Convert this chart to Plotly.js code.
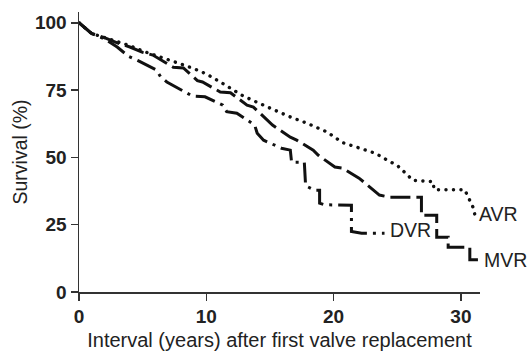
<!DOCTYPE html>
<html>
<head>
<meta charset="utf-8">
<script src="https://cdn.plot.ly/plotly-3.0.1.min.js"></script>
<style>html,body{margin:0;padding:0;background:#fff;}#chart{width:527px;height:352px;}</style>
</head>
<body>
<div id="chart"></div>
<script>
// AVR (dotted)
var avrTime = [0, 1, 2, 3, 4, 5, 6, 7.8, 9, 10, 11.1, 12.1, 12.9, 15, 16.6, 17.9, 19.5, 20.7, 22, 23.3, 24.2, 25, 25.8, 26.2, 27.8, 27.9, 30.3, 30.6, 31.0, 31.1];
var avrSurv = [100, 96, 94.5, 93, 91.5, 89.5, 88, 85, 83, 81, 78, 75, 72.8, 68.3, 65, 62.7, 59.4, 55.5, 53.5, 51.5, 49, 47, 43.5, 41.5, 41, 38, 38, 35, 31, 28.5];
// MVR (dashed)
var mvrTime = [0, 1, 2, 3, 4, 5, 5.8, 7.4, 8.2, 9.3, 9.7, 11.1, 11.9, 13.2, 13.7, 14.8, 15.2, 16.6, 17.1, 18.4, 18.8, 20.1, 20.7, 22, 22.5, 23.6, 24.4, 26.9, 26.9, 28.1, 28.1, 29.0, 29.0, 30.7, 30.7, 31.5];
var mvrSurv = [100, 96, 94.5, 92.5, 91, 89, 88, 83.5, 83.2, 78.5, 78, 74.3, 74, 69.4, 68.7, 63.8, 62, 57.5, 56.4, 52.7, 50.8, 46.4, 46, 42.3, 40.4, 36, 35.2, 35.2, 28.5, 28.5, 20.3, 20.3, 16.6, 16.6, 12, 12];
// DVR (dash-dot)
var dvrTime = [0, 1, 2, 3, 3.9, 4.6, 6.1, 6.4, 6.9, 8.3, 8.9, 9.9, 11.3, 11.6, 12.4, 13.8, 14, 14.5, 15.9, 16.6, 16.7, 17.7, 17.8, 18.5, 18.9, 18.9, 19.3, 21.4, 21.4, 22.2, 24.0];
var dvrSurv = [100, 96, 94, 91, 87.5, 86, 82.4, 80, 78, 74.3, 72.8, 72.5, 69.4, 67, 66.4, 62, 59, 56.4, 53.4, 52.7, 48.2, 48.2, 39.5, 37.8, 37.8, 33, 32.4, 32.2, 22.5, 21.8, 21.8];

var xTicks = [0, 10, 20, 30];
var yTicks = [0, 25, 50, 75, 100];
var seriesNames = ['AVR', 'DVR', 'MVR'];

var FONT = 'Liberation Sans, Arial, Helvetica, sans-serif';

var traces = [
  {x: dvrTime, y: dvrSurv, mode: 'lines', name: 'DVR',
   line: {color: '#111', width: 3, dash: '20px,6px,3px,6px'}},
  {x: mvrTime, y: mvrSurv, mode: 'lines', name: 'MVR',
   line: {color: '#111', width: 3, dash: '20px,6px'}},
  {x: avrTime, y: avrSurv, mode: 'lines', name: 'AVR',
   line: {color: '#111', width: 3.4, dash: '0.1px,7.4px'}}
];

var axisCommon = {
  showline: true, linecolor: '#333', linewidth: 1.5,
  ticks: 'outside', ticklen: 7, tickwidth: 1.5, tickcolor: '#333',
  showgrid: false, zeroline: false,
  tickfont: {family: FONT, size: 19, color: '#222', weight: 'bold'}
};

var layout = {
  width: 527, height: 352,
  margin: {l: 79, r: 47, t: 12, b: 60},
  paper_bgcolor: '#fff', plot_bgcolor: '#fff',
  showlegend: false,
  xaxis: Object.assign({}, axisCommon, {
    range: [0, 31.5], tickvals: xTicks, ticktext: xTicks.map(String),
    title: {text: 'Interval (years) after first valve replacement',
            font: {family: FONT, size: 20, color: '#222'}, standoff: 6}
  }),
  yaxis: Object.assign({}, axisCommon, {
    range: [0, 104], tickvals: yTicks, ticktext: yTicks.map(String),
    title: {text: 'Survival (%)', font: {family: FONT, size: 19.5, color: '#222'}, standoff: 2}
  }),
  annotations: [
    {x: 31.3, y: 28.8, text: seriesNames[0], xshift: 0},
    {x: 24.3, y: 22.9, text: seriesNames[1], xshift: 0},
    {x: 31.5, y: 11.8, text: seriesNames[2], xshift: 2}
  ].map(function(a){
    return Object.assign(a, {xref: 'x', yref: 'y', xanchor: 'left', yanchor: 'middle',
      showarrow: false, font: {family: FONT, size: 19.5, color: '#222'}});
  })
};

Plotly.newPlot('chart', traces, layout, {staticPlot: true, displayModeBar: false}).then(function(gd){
  var paths = gd.querySelectorAll('.scatterlayer .trace .js-line');
  if (paths.length) {
    paths[paths.length - 1].style.strokeLinecap = 'round';
  }
});
</script>
</body>
</html>
